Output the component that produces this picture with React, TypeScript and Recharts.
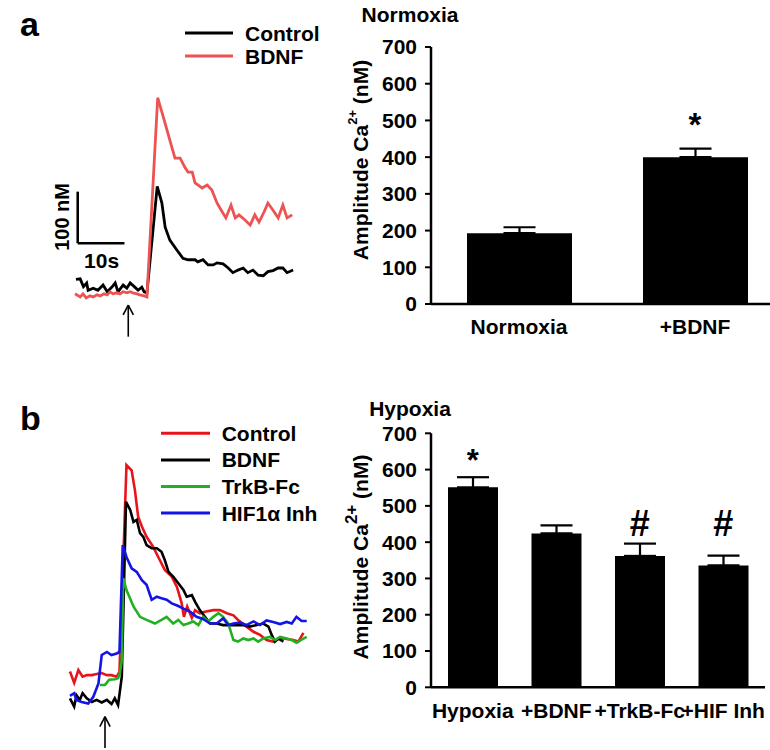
import React from 'react';
import {
  LineChart,
  Line,
  XAxis,
  YAxis,
  ReferenceLine,
  ReferenceDot,
  Legend,
  BarChart,
  Bar,
  ErrorBar,
} from 'recharts';

const FONT = '"Liberation Sans", Arial, Helvetica, sans-serif';

// ---------- Panel a: Normoxia Ca2+ traces (time s, Ca2+ nM) ----------
const normCtrlT = [0.2, 1.1, 1.8, 2.5, 2.8, 3.9, 4.9, 6.0, 6.9, 7.9, 8.6, 9.2, 10.3, 11.1, 11.8, 12.8, 13.5, 14.3, 14.8, 15.4, 17.6, 18.6, 19.3, 20.3, 21.8, 23.1, 24.2, 25.7, 26.3, 27.4, 28.5, 29.6, 30.4, 31.7, 32.8, 33.8, 34.9, 36.0, 37.0, 38.1, 39.2, 40.3, 41.3, 42.4, 43.5, 44.5, 45.4, 46.7];
const normCtrlV = [40, 41, 26, 33, 19, 23, 19, 29, 16, 25, 33, 16, 29, 23, 33, 25, 19, 25, 16, 14, 220, 188, 141, 116, 97, 81, 78, 78, 74, 78, 68, 68, 72, 70, 62, 53, 58, 62, 53, 58, 48, 47, 55, 57, 62, 62, 53, 58];
const normBdnfT = [0, 1.1, 1.7, 2.4, 3.2, 3.9, 4.7, 5.4, 6.2, 6.9, 7.5, 8.1, 9.0, 9.6, 10.3, 11.1, 11.8, 12.4, 13.3, 13.9, 14.8, 15.4, 17.7, 18.6, 19.7, 20.6, 21.4, 22.5, 23.6, 24.2, 25.1, 25.7, 26.6, 27.2, 28.3, 29.3, 30.4, 31.5, 32.3, 33.4, 34.3, 35.1, 36.4, 37.5, 38.5, 39.4, 40.5, 41.3, 42.4, 43.5, 44.5, 45.4, 46.5];
const normBdnfV = [12, 6, 12, 4, 8, 6, 10, 8, 12, 10, 16, 12, 14, 12, 16, 14, 16, 14, 12, 10, 8, 6, 392, 364, 329, 300, 275, 275, 256, 248, 248, 227, 221, 217, 223, 213, 188, 171, 159, 184, 159, 165, 155, 145, 165, 151, 171, 188, 174, 159, 184, 159, 165];

// ---------- Panel b: Hypoxia Ca2+ traces ----------
const hypCtrlT = [0, 0.9, 1.8, 2.7, 3.6, 4.7, 5.7, 6.8, 7.9, 8.9, 10.0, 10.6, 12.1, 13.2, 13.9, 14.6, 15.4, 16.4, 17.8, 18.9, 20.3, 21.8, 22.9, 23.9, 24.4, 25.1, 26.1, 26.8, 27.8, 28.9, 30.7, 32.1, 33.6, 35.0, 36.0, 37.8, 39.3, 40.7, 42.1, 43.5, 45.0, 46.4, 47.8, 48.9, 50.0];
const hypCtrlV = [94, 72, 97, 84, 87, 87, 89, 91, 87, 87, 84, 93, 494, 484, 446, 394, 375, 355, 336, 316, 291, 278, 258, 227, 200, 220, 198, 213, 207, 210, 213, 213, 207, 203, 194, 181, 171, 165, 155, 152, 159, 157, 155, 152, 169];
const hypBdnfT = [0, 0.9, 1.4, 2.1, 2.7, 3.6, 4.7, 5.7, 6.8, 7.9, 8.9, 9.6, 10.3, 11.1, 12.0, 12.9, 13.6, 14.3, 15.0, 15.7, 16.4, 17.5, 18.6, 19.6, 20.3, 21.1, 22.1, 23.2, 24.3, 25.0, 26.1, 26.8, 27.8, 28.9, 30.0, 31.4, 32.8, 34.3, 35.7, 37.1, 38.5, 40.0, 41.4, 42.5, 43.2, 43.9, 44.6, 45.7];
const hypBdnfV = [42, 26, 48, 39, 52, 42, 35, 39, 34, 39, 31, 42, 29, 84, 423, 407, 384, 388, 362, 355, 339, 333, 333, 326, 310, 287, 278, 265, 252, 239, 242, 229, 213, 200, 187, 187, 184, 184, 184, 184, 181, 184, 187, 181, 165, 152, 158, 152];
const hypTrkT = [6.4, 7.5, 8.4, 9.6, 10.3, 10.7, 11.1, 11.4, 12.1, 13.6, 15.0, 16.4, 18.2, 19.6, 20.7, 22.1, 23.2, 24.3, 25.3, 26.4, 27.5, 28.5, 29.6, 30.7, 31.8, 32.8, 33.9, 35.0, 36.0, 37.1, 38.2, 39.3, 40.3, 41.4, 42.8, 43.9, 45.0, 46.4, 47.5, 48.5, 49.6, 50.7];
const hypTrkV = [68, 68, 78, 79, 81, 91, 116, 275, 252, 220, 200, 194, 187, 194, 200, 187, 194, 184, 187, 191, 184, 200, 191, 200, 207, 200, 187, 155, 152, 158, 155, 158, 152, 158, 161, 155, 161, 158, 155, 150, 156, 161];
const hypHifT = [0, 0.9, 1.4, 2.5, 3.9, 5.0, 6.1, 6.8, 7.9, 8.9, 10.0, 10.6, 11.3, 12.1, 13.2, 14.3, 15.4, 16.4, 17.5, 18.6, 19.6, 20.7, 21.8, 23.2, 24.3, 25.7, 27.1, 28.5, 30.0, 31.4, 32.8, 33.9, 35.0, 36.4, 37.8, 39.3, 40.7, 42.1, 43.5, 45.0, 46.4, 47.5, 48.5, 49.6, 50.7];
const hypHifV = [47, 52, 39, 35, 32, 45, 71, 126, 132, 126, 129, 132, 339, 316, 294, 287, 271, 262, 233, 239, 236, 233, 226, 221, 216, 210, 200, 196, 187, 187, 197, 184, 187, 189, 184, 191, 184, 193, 190, 186, 190, 187, 200, 192, 192];

// ---------- Bar charts: amplitude Ca2+ (nM) ----------
const normCats = ['Normoxia', '+BDNF'];
const normMeans = [193, 400];
const normSem = [16, 23];
const hypCats = ['Hypoxia', '+BDNF', '+TrkB-Fc', '+HIF Inh'];
const hypMeans = [551, 424, 362, 336];
const hypSem = [28, 22, 34, 27];
const ampTicks = [0, 100, 200, 300, 400, 500, 600, 700];

const zip = (t: number[], v: number[]) => t.map((x, i) => ({ t: x, v: v[i] }));

const normSeries = [
  { name: 'Control', color: '#000000', data: zip(normCtrlT, normCtrlV) },
  { name: 'BDNF', color: '#EC5352', data: zip(normBdnfT, normBdnfV) },
];
const hypSeries = [
  { name: 'Control', color: '#E8141B', data: zip(hypCtrlT, hypCtrlV) },
  { name: 'BDNF', color: '#000000', data: zip(hypBdnfT, hypBdnfV) },
  { name: 'TrkB-Fc', color: '#22B022', data: zip(hypTrkT, hypTrkV) },
  { name: 'HIF1\u03B1 Inh', color: '#1414E6', data: zip(hypHifT, hypHifV) },
];

const normBars = normCats.map((c, i) => ({ name: c, value: normMeans[i], err: [0, normSem[i]] }));
const hypBars = hypCats.map((c, i) => ({ name: c, value: hypMeans[i], err: [0, hypSem[i]] }));

const textShape = (label: string, size: number, angle = 0) => (p: any) => (
  <text
    x={p.cx}
    y={p.cy}
    transform={angle ? `rotate(${angle} ${p.cx} ${p.cy})` : undefined}
    textAnchor="middle"
    dominantBaseline="central"
    fontFamily={FONT}
    fontWeight={700}
    fontSize={size}
    fill="#000"
  >
    {label}
  </text>
);

const markShape = (label: string, size: number) => (p: any) => (
  <text x={p.cx} y={p.cy} textAnchor="middle" fontFamily={FONT} fontWeight={700} fontSize={size} fill="#000">
    {label}
  </text>
);

const makeLegend = (
  items: { name: string; color: string }[],
  rowH: number,
  firstY: number,
  x1: number,
  x2: number,
  tx: number
) => () => (
  <svg width={200} height={firstY + rowH * items.length + 10} style={{ display: 'block', overflow: 'visible' }}>
    {items.map((it, i) => {
      const y = firstY + i * rowH;
      return (
        <g key={it.name}>
          <line x1={x1} x2={x2} y1={y} y2={y} stroke={it.color} strokeWidth={3} />
          <text x={tx} y={y} dominantBaseline="central" fontFamily={FONT} fontWeight={700} fontSize={21} fill="#000">
            {it.name}
          </text>
        </g>
      );
    })}
  </svg>
);

const axisTitle = (px: number, py: number, sup: number, supDy: number) => () => (
  <text
    x={px}
    y={py}
    transform={`rotate(-90 ${px} ${py})`}
    textAnchor="middle"
    dominantBaseline="central"
    fontFamily={FONT}
    fontWeight={700}
    fontSize={21}
    fill="#000"
  >
    Amplitude Ca
    <tspan dy={-supDy} fontSize={sup}>2+</tspan>
    <tspan dy={supDy}> (nM)</tspan>
  </text>
);

const tickStyle = { fill: '#000', fontSize: 21, fontWeight: 700, fontFamily: FONT };
const axisStroke = { stroke: '#000', strokeWidth: 2.5 };

const arrowLines = (x: number, tip: number, tail: number, dx: number, dy: number, key: string) => [
  <ReferenceLine key={key + 's'} segment={[{ x, y: tip }, { x, y: tail }]} stroke="#000" strokeWidth={1.6} />,
  <ReferenceLine key={key + 'l'} segment={[{ x, y: tip }, { x: x - dx, y: tip - dy }]} stroke="#000" strokeWidth={1.6} />,
  <ReferenceLine key={key + 'r'} segment={[{ x, y: tip }, { x: x + dx, y: tip - dy }]} stroke="#000" strokeWidth={1.6} />,
];

export default function App() {
  return (
    <div
      style={{
        position: 'absolute',
        left: 0,
        top: 0,
        width: 770,
        height: 750,
        overflow: 'hidden',
        background: '#fff',
        fontFamily: FONT,
      }}
    >
      {/* Panel a traces */}
      <div style={{ position: 'absolute', left: 0, top: 0 }}>
        <LineChart width={340} height={345} margin={{ top: 93.6, right: 40.8, bottom: 3.7, left: 47 }}>
          <XAxis type="number" dataKey="t" domain={[-6, 48]} hide allowDataOverflow />
          <YAxis type="number" domain={[-80, 400]} hide allowDataOverflow />
          {normSeries.map((s) => (
            <Line
              key={s.name}
              data={s.data}
              dataKey="v"
              name={s.name}
              stroke={s.color}
              strokeWidth={2.8}
              dot={false}
              type="linear"
              isAnimationActive={false}
            />
          ))}
          <ReferenceLine segment={[{ x: 0.58, y: 210 }, { x: 0.58, y: 110 }]} stroke="#000" strokeWidth={2.6} />
          <ReferenceLine segment={[{ x: 0.58, y: 110 }, { x: 10.58, y: 110 }]} stroke="#000" strokeWidth={2.6} />
          <ReferenceDot x={-2.85} y={161} r={0} ifOverflow="visible" shape={textShape('100 nM', 20, -90)} />
          <ReferenceDot x={5.7} y={77.5} r={0} ifOverflow="visible" shape={textShape('10s', 21)} />
          {arrowLines(11.4, -9.7, -71, 1.1, 19, 'a')}
          <Legend
            layout="vertical"
            align="center"
            verticalAlign="middle"
            content={makeLegend(normSeries, 23, 15, 5, 53, 65)}
            wrapperStyle={{ left: 180, top: 18, width: 200, height: 70 }}
          />
        </LineChart>
      </div>

      {/* Panel a bars */}
      <div style={{ position: 'absolute', left: 340, top: 30 }}>
        <BarChart width={443} height={320} data={normBars} margin={{ top: 17, right: 0, bottom: 0, left: 0 }}>
          <XAxis
            dataKey="name"
            axisLine={axisStroke}
            tickLine={false}
            tickSize={0}
            tickMargin={15}
            interval={0}
            height={46}
            tick={tickStyle}
          />
          <YAxis
            width={91}
            domain={[0, 700]}
            ticks={ampTicks}
            interval={0}
            axisLine={axisStroke}
            tickLine={{ stroke: '#000', strokeWidth: 2 }}
            tickSize={6}
            tickMargin={8}
            tick={tickStyle}
            label={{ content: axisTitle(20, 130, 13, 8) }}
          />
          <Bar dataKey="value" fill="#000" barSize={105} isAnimationActive={false}>
            <ErrorBar dataKey="err" width={16} stroke="#000" strokeWidth={2.2} />
          </Bar>
          <ReferenceDot x="+BDNF" y={458} r={0} shape={markShape('*', 33)} />
        </BarChart>
      </div>

      {/* Panel b traces */}
      <div style={{ position: 'absolute', left: 0, top: 390 }}>
        <LineChart width={340} height={362} margin={{ top: 72, right: 27.2, bottom: 1, left: 65.3 }}>
          <XAxis type="number" dataKey="t" domain={[-1, 52]} hide allowDataOverflow />
          <YAxis type="number" domain={[-60, 500]} hide allowDataOverflow />
          {hypSeries.map((s) => (
            <Line
              key={s.name}
              data={s.data}
              dataKey="v"
              name={s.name}
              stroke={s.color}
              strokeWidth={2.6}
              dot={false}
              type="linear"
              isAnimationActive={false}
            />
          ))}
          {arrowLines(7.5, 6.4, -54, 1.1, 19, 'b')}
          <Legend
            layout="vertical"
            align="center"
            verticalAlign="middle"
            content={makeLegend(hypSeries, 26.6, 13.3, 6, 55, 66.7)}
            wrapperStyle={{ left: 155, top: 30, width: 200, height: 120 }}
          />
        </LineChart>
      </div>

      {/* Panel b bars */}
      <div style={{ position: 'absolute', left: 340, top: 420 }}>
        <BarChart width={425} height={330} data={hypBars} margin={{ top: 13.3, right: 0, bottom: 0, left: 0 }}>
          <XAxis
            dataKey="name"
            axisLine={axisStroke}
            tickLine={false}
            tickSize={0}
            tickMargin={16}
            interval={0}
            height={62.7}
            tick={tickStyle}
          />
          <YAxis
            width={91}
            domain={[0, 700]}
            ticks={ampTicks}
            interval={0}
            axisLine={axisStroke}
            tickLine={{ stroke: '#000', strokeWidth: 2 }}
            tickSize={6}
            tickMargin={8}
            tick={tickStyle}
            label={{ content: axisTitle(20, 137, 17, 9) }}
          />
          <Bar dataKey="value" fill="#000" barSize={50} isAnimationActive={false}>
            <ErrorBar dataKey="err" width={16} stroke="#000" strokeWidth={2.2} />
          </Bar>
          <ReferenceDot x="Hypoxia" y={597} r={0} shape={markShape('*', 31)} />
          <ReferenceDot x="+TrkB-Fc" y={418} r={0} shape={markShape('#', 36)} />
          <ReferenceDot x="+HIF Inh" y={418} r={0} shape={markShape('#', 36)} />
        </BarChart>
      </div>

      {/* Panel letters and titles */}
      <svg width={770} height={750} style={{ position: 'absolute', left: 0, top: 0, pointerEvents: 'none' }}>
        <text x={20} y={36} fontFamily={FONT} fontWeight={700} fontSize={34} fill="#000">a</text>
        <text x={410} y={22} textAnchor="middle" fontFamily={FONT} fontWeight={700} fontSize={21} fill="#000">Normoxia</text>
        <text x={20} y={430} fontFamily={FONT} fontWeight={700} fontSize={34} fill="#000">b</text>
        <text x={410} y={416} textAnchor="middle" fontFamily={FONT} fontWeight={700} fontSize={21} fill="#000">Hypoxia</text>
      </svg>
    </div>
  );
}
